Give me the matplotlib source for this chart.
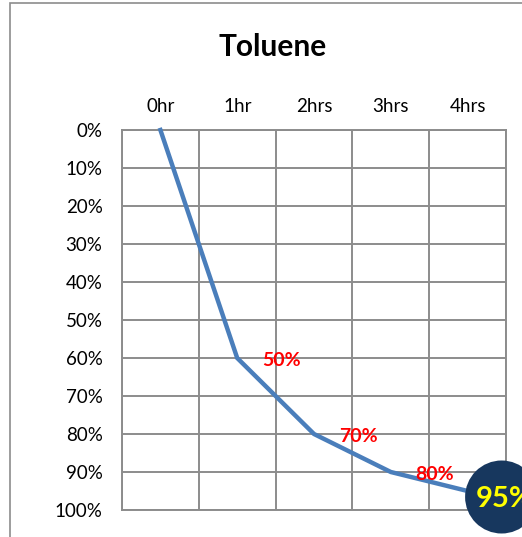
import matplotlib
matplotlib.use("Agg")
import matplotlib.pyplot as plt
from matplotlib import transforms
from matplotlib.patches import Circle, Rectangle

plt.rcParams['font.family'] = ['Lato', 'DejaVu Sans']

title = "Toluene"
categories = ["0hr", "1hr", "2hrs", "3hrs", "4hrs"]
values = [0.0, 0.60, 0.80, 0.90, 0.95]
point_labels = ["", "50%", "70%", "80%", "95%"]
y_ticks = [0.0, 0.1, 0.2, 0.3, 0.4, 0.5, 0.6, 0.7, 0.8, 0.9, 1.0]
y_tick_labels = ["0%", "10%", "20%", "30%", "40%", "50%", "60%", "70%", "80%", "90%", "100%"]

fig = plt.figure(figsize=(5.22, 5.37), dpi=100)
ax = fig.add_axes([122/522, 1-510/537, (506-122)/522, (510-130)/537])

grid_col = "#8c8c8c"
x = list(range(len(categories)))
ax.plot(x, values, color="#4a7ebb", lw=3.2, solid_joinstyle="miter", zorder=3, clip_on=False)

ax.set_xlim(-0.5, len(categories) - 0.5)
ax.set_ylim(1.0, 0.0)
ax.set_yticks(y_ticks)
ax.set_yticklabels(y_tick_labels)
ax.set_xticks(x)
ax.set_xticklabels(categories)
ax.xaxis.tick_top()
ax.set_xticks([i - 0.5 for i in range(len(categories) + 1)], minor=True)
ax.tick_params(axis='x', which='major', length=0, pad=11, labelsize=13.5)
ax.tick_params(axis='x', which='minor', length=0)
ax.tick_params(axis='y', length=0, pad=14, labelsize=13.5)
ax.grid(True, axis='y', which='major', color=grid_col, lw=1.4)
ax.grid(True, axis='x', which='minor', color=grid_col, lw=1.4)
ax.grid(False, axis='x', which='major')
for s in ax.spines.values():
    s.set_color(grid_col)
    s.set_linewidth(1.4)
ax.set_axisbelow(True)

# data labels to the right of points
for i, (v, lab) in enumerate(zip(values, point_labels)):
    if not lab:
        continue
    if i == len(values) - 1:
        tr = fig.dpi_scale_trans + transforms.ScaledTranslation(i, v, ax.transData)
        circ = Circle((0.34, -0.06), 0.365, transform=tr, facecolor="#17375e",
                      edgecolor="none", zorder=5, clip_on=False)
        fig.patches.append(circ)
        fig.text(0.37, -0.08, lab, transform=tr, ha="center", va="center",
                 color="#ffff00", fontsize=21, fontweight="bold", zorder=6)
    else:
        ax.annotate(lab, (i, v), xytext=(44, -3), textcoords="offset pixels",
                    ha="center", va="center", color="#ff0000", fontsize=14,
                    fontweight="bold", zorder=4)

fig.text(273/522, 1-47/537, title, ha="center", va="center", fontsize=21.5, fontweight="bold")

# outer chart border
frame = Rectangle((10/522, -0.1), 1.2, 1.1 - 3/537, transform=fig.transFigure,
                  facecolor="none", edgecolor="#8c8c8c", lw=1.2, zorder=0)
fig.patches.append(frame)

fig.savefig("out.png", dpi=100)
